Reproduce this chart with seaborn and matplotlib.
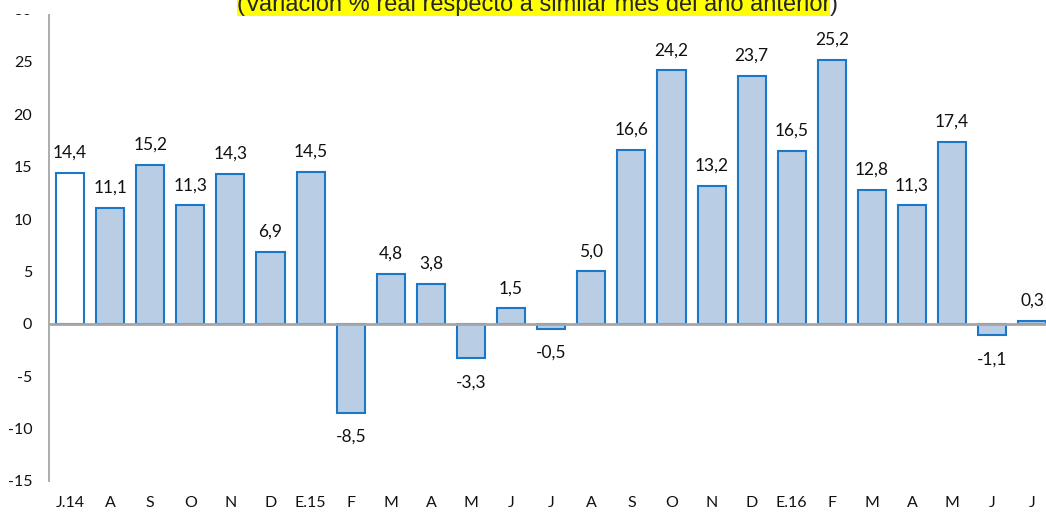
import matplotlib
matplotlib.use("Agg")
import matplotlib.pyplot as plt
import seaborn as sns
import numpy as np
import pandas as pd
from matplotlib.patches import Rectangle

categories = ["J.14", "A", "S", "O", "N", "D", "E.15", "F", "M", "A", "M", "J",
              "J", "A", "S", "O", "N", "D", "E.16", "F", "M", "A", "M", "J", "J"]
values = [14.4, 11.1, 15.2, 11.3, 14.3, 6.9, 14.5, -8.5, 4.8, 3.8, -3.3, 1.5,
          -0.5, 5.0, 16.6, 24.2, 13.2, 23.7, 16.5, 25.2, 12.8, 11.3, 17.4, -1.1, 0.3]
yticks = [-15, -10, -5, 0, 5, 10, 15, 20, 25, 30]
title = "(Variación % real respecto a similar mes del año anterior"

sns.set_theme(style="white")
plt.rcParams['font.family'] = ['Lato', 'DejaVu Sans']

W, H = 1046, 512
fig = plt.figure(figsize=(W / 100, H / 100), dpi=100)
ax = fig.add_axes([49 / W, 1 - 481 / H, 1 - 49 / W, (481 - 9.6) / H])

df = pd.DataFrame({"pos": [str(i) for i in range(len(values))], "val": values})
sns.barplot(data=df, x="pos", y="val", color="#B9CDE5", width=0.7,
            edgecolor="#1B78C8", linewidth=1.5, saturation=1, ax=ax)
ax.patches[0].set_facecolor("white")

ax.set_xlim(-0.525, 24.34)
ax.set_ylim(-15, 30)
ax.set_yticks(yticks)
ax.set_yticklabels([str(t) for t in yticks], fontsize=11.5, color="#111111")
ax.set_xticks(range(len(categories)))
ax.set_xticklabels(categories, fontsize=11.5, color="#111111")
ax.tick_params(axis='x', length=0, pad=11)
ax.tick_params(axis='y', length=0, pad=12)
ax.set_xlabel("")
ax.set_ylabel("")

for s in ["top", "right", "bottom"]:
    ax.spines[s].set_visible(False)
ax.spines["left"].set_color("#A6A6A6")
ax.spines["left"].set_linewidth(1.3)
ax.axhline(0, color="#A6A6A6", linewidth=2.0, zorder=3)

for i, v in enumerate(values):
    lab = f"{v:.1f}".replace(".", ",")
    off = 20 if v >= 0 else -24
    ax.annotate(lab, (i, v), xytext=(0, off), textcoords="offset pixels",
                ha="center", va="center", fontsize=12.5, color="#111111",
                annotation_clip=False)

# white band at the top (title box of the original covers the top of the axis)
fig.patches.append(Rectangle((0, 1 - 14 / H), 1, 14 / H, transform=fig.transFigure,
                             facecolor="white", edgecolor="none", zorder=5))

fig.text(830 / W, 1 - 11 / H, title, ha="right", va="baseline",
         fontsize=17, family=["Liberation Sans", "DejaVu Sans"], zorder=6,
         bbox=dict(facecolor="#FFFF00", edgecolor="none", pad=0))
fig.text(830 / W, 1 - 11 / H, ")", ha="left", va="baseline", zorder=6,
         fontsize=17, family=["Liberation Sans", "DejaVu Sans"])

fig.savefig("out.png", dpi=100)
